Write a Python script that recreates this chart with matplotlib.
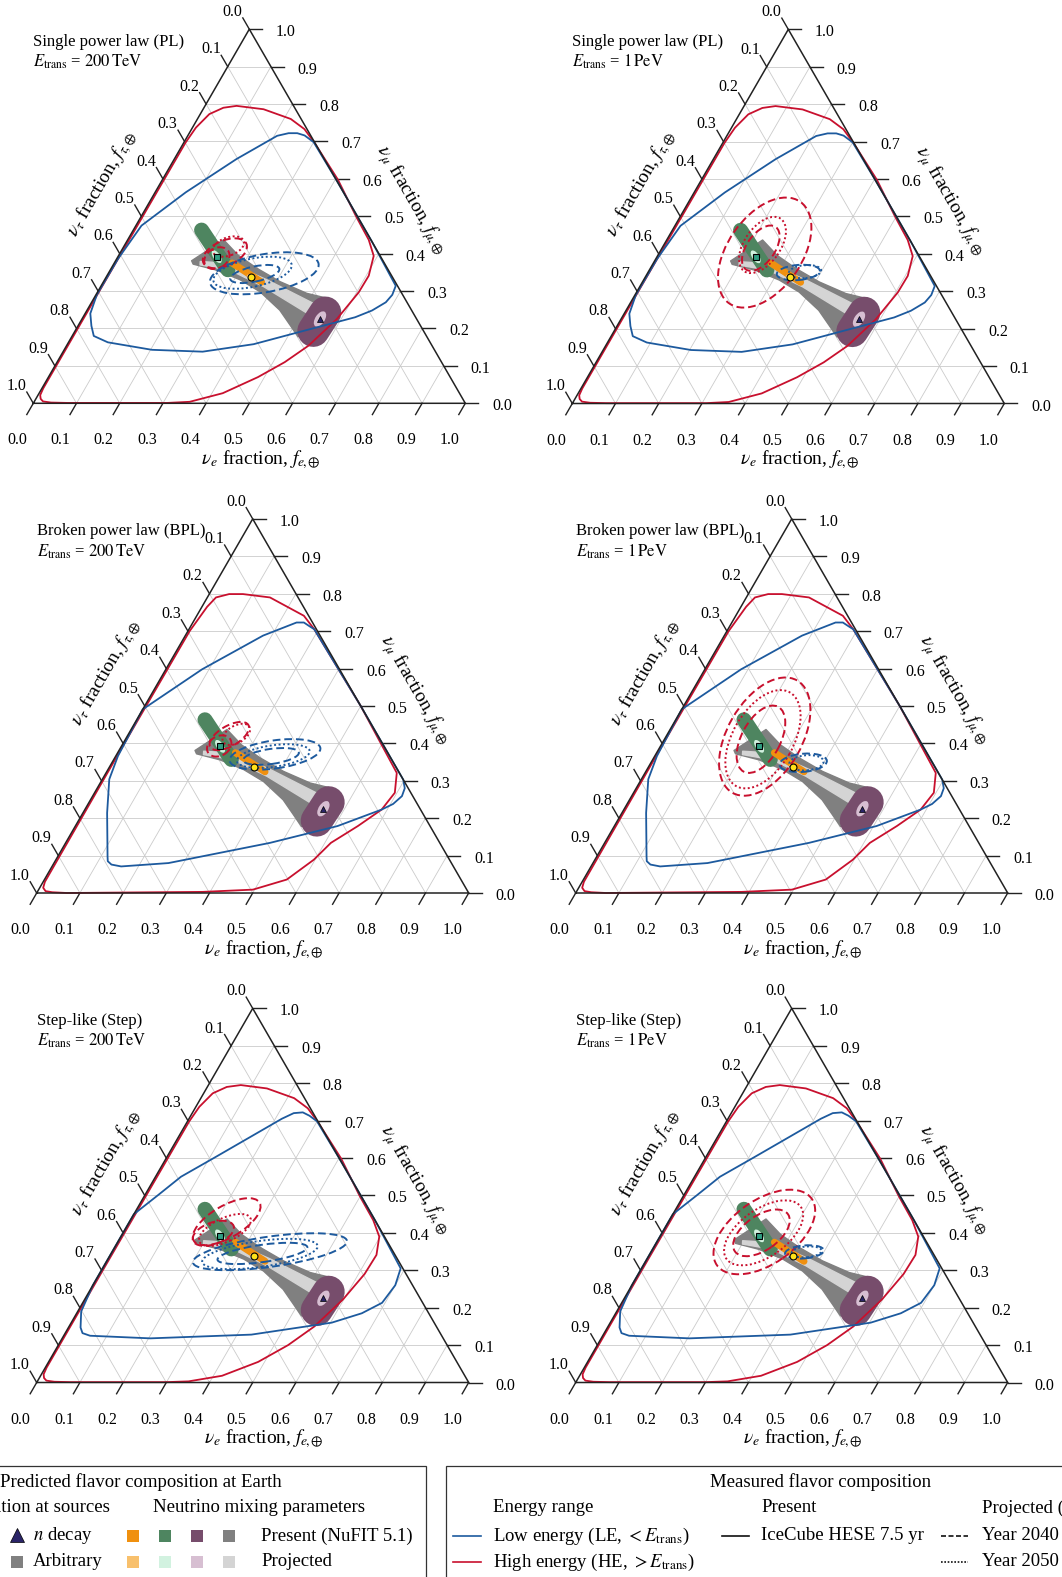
import numpy as np
import matplotlib.pyplot as plt
from matplotlib.transforms import Affine2D
from matplotlib.patches import Ellipse, Polygon, Rectangle
from matplotlib.lines import Line2D

plt.rcParams['font.family'] = 'serif'
plt.rcParams['font.serif'] = ['Liberation Serif', 'DejaVu Serif']
plt.rcParams['mathtext.fontset'] = 'stix'

W, H = 1062, 1577
SIDE = 432.0  # pixels per triangle side

RED = '#c8102e'
BLUE = '#1d5a9e'
GREY = '#808080'
LGREY = '#d4d4d4'
GREEN = '#4e8560'
LGREEN = '#d2f2e0'
PURPLE = '#774d6c'
LPURPLE = '#d7bfd2'
ORANGE = '#f0900f'
LORANGE = '#f8c06c'
NAVY = '#2a2468'

ticks = [0.0, 0.1, 0.2, 0.3, 0.4, 0.5, 0.6, 0.7, 0.8, 0.9, 1.0]

# IceCube HESE contours, (f_e, f_mu) pairs
HE_PL = [(0.004, 0.697), (0.008, 0.737), (0.021, 0.773), (0.045, 0.790), (0.073, 0.795),
         (0.140, 0.786), (0.216, 0.760), (0.261, 0.733), (0.302, 0.697), (0.406, 0.598),
         (0.498, 0.499), (0.558, 0.437), (0.591, 0.394), (0.606, 0.341), (0.605, 0.297),
         (0.590, 0.225), (0.560, 0.154), (0.527, 0.110), (0.485, 0.070), (0.425, 0.027),
         (0.360, 0.004), (0.310, 0.001), (0.078, 0.001), (0.040, 0.002), (0.020, 0.005),
         (0.011, 0.012), (0.005, 0.022), (0.003, 0.040), (0.003, 0.300)]
LE_PL = [(0.003, 0.386), (0.013, 0.475), (0.071, 0.564), (0.144, 0.653), (0.207, 0.715),
         (0.230, 0.722), (0.250, 0.722), (0.270, 0.716), (0.300, 0.698), (0.400, 0.600),
         (0.565, 0.435), (0.682, 0.314), (0.686, 0.290), (0.681, 0.270), (0.660, 0.248),
         (0.630, 0.230), (0.530, 0.194), (0.431, 0.158), (0.323, 0.138), (0.203, 0.143),
         (0.091, 0.163), (0.050, 0.180), (0.031, 0.207), (0.012, 0.240), (0.002, 0.290)]
HE_BPL = [(0.004, 0.700), (0.012, 0.765), (0.020, 0.790), (0.046, 0.799), (0.078, 0.799),
          (0.145, 0.790), (0.248, 0.741), (0.290, 0.705), (0.500, 0.500), (0.673, 0.321),
          (0.695, 0.268), (0.687, 0.223), (0.654, 0.179), (0.614, 0.134), (0.597, 0.089),
          (0.561, 0.036), (0.496, 0.009), (0.383, 0.003), (0.070, 0.000), (0.035, 0.002),
          (0.018, 0.005), (0.008, 0.014), (0.004, 0.030), (0.003, 0.400)]
LE_BPL = [(0.000, 0.491), (0.084, 0.598), (0.180, 0.688), (0.240, 0.723), (0.257, 0.723),
          (0.275, 0.713), (0.290, 0.705), (0.500, 0.500), (0.697, 0.303), (0.712, 0.280),
          (0.716, 0.259), (0.706, 0.238), (0.687, 0.223), (0.607, 0.179), (0.473, 0.134),
          (0.265, 0.080), (0.160, 0.071), (0.135, 0.076), (0.122, 0.085), (0.115, 0.098),
          (0.056, 0.214), (0.016, 0.304), (0.005, 0.366)]
HE_STEP = [(0.004, 0.697), (0.008, 0.737), (0.021, 0.773), (0.045, 0.790), (0.075, 0.795),
           (0.140, 0.786), (0.216, 0.760), (0.261, 0.733), (0.302, 0.697), (0.406, 0.598),
           (0.498, 0.499), (0.562, 0.434), (0.598, 0.390), (0.616, 0.341), (0.614, 0.290),
           (0.598, 0.222), (0.568, 0.150), (0.532, 0.100), (0.485, 0.055), (0.420, 0.018),
           (0.350, 0.003), (0.300, 0.001), (0.078, 0.001), (0.040, 0.002), (0.020, 0.005),
           (0.011, 0.012), (0.005, 0.022), (0.003, 0.040), (0.003, 0.300)]
LE_STEP = [(0.000, 0.450), (0.030, 0.500), (0.059, 0.550), (0.110, 0.600), (0.168, 0.658),
           (0.215, 0.705), (0.235, 0.720), (0.255, 0.722), (0.275, 0.713), (0.300, 0.698),
           (0.400, 0.600), (0.565, 0.435), (0.690, 0.305), (0.700, 0.260), (0.693, 0.213),
           (0.660, 0.185), (0.603, 0.160), (0.433, 0.128), (0.204, 0.118), (0.061, 0.125),
           (0.040, 0.132), (0.028, 0.147), (0.008, 0.190), (0.000, 0.260)]

# predicted regions at Earth
GREY_FAN = [(0.176, 0.381), (0.222, 0.437), (0.276, 0.396), (0.337, 0.361), (0.409, 0.325),
            (0.486, 0.294), (0.539, 0.281), (0.561, 0.205), (0.524, 0.178), (0.446, 0.249),
            (0.376, 0.298), (0.314, 0.330), (0.246, 0.356), (0.184, 0.372)]
LIGHT_FAN = [(0.197, 0.379), (0.268, 0.374), (0.376, 0.330), (0.515, 0.267), (0.538, 0.236),
             (0.513, 0.241), (0.377, 0.312), (0.277, 0.356), (0.201, 0.370)]
GREEN_AXIS = [(0.158, 0.463), (0.272, 0.357)]
ORANGE_AXIS = [(0.2725, 0.375), (0.3665, 0.324)]
PURPLE_AXIS = [(0.5546, 0.2427), (0.5514, 0.1935)]
SQUARE = (0.2285, 0.392)
CIRCLE = (0.3348, 0.3368)
TRIANGLE = (0.551, 0.2253)

# projected contours: (range, style, f_e, f_mu, width, height, angle)
PROJ_PL_200 = [("HE", "--", 0.243, 0.401, 0.109, 0.058, 24),
               ("HE", ":", 0.242, 0.419, 0.076, 0.042, 20),
               ("HE", "--", 0.231, 0.388, 0.062, 0.046, 30),
               ("LE", "--", 0.361, 0.3475, 0.255, 0.088, 10),
               ("LE", ":", 0.333, 0.349, 0.185, 0.065, 12),
               ("LE", "--", 0.340, 0.3456, 0.116, 0.035, 12)]
PROJ_PL_1P = [("HE", "--", 0.2437, 0.4034, 0.287, 0.171, 55),
              ("HE", ":", 0.2284, 0.4237, 0.148, 0.083, 55),
              ("HE", "--", 0.2288, 0.4151, 0.120, 0.065, 55),
              ("LE", "--", 0.348, 0.3502, 0.100, 0.035, 5),
              ("LE", ":", 0.3625, 0.3523, 0.075, 0.030, 5)]
PROJ_BPL_200 = [("HE", "--", 0.236, 0.4196, 0.102, 0.047, 30),
                ("HE", ":", 0.250, 0.424, 0.070, 0.040, 30),
                ("HE", "--", 0.226, 0.393, 0.060, 0.045, 30),
                ("LE", "--", 0.3664, 0.3705, 0.212, 0.065, 8),
                ("LE", ":", 0.3647, 0.366, 0.170, 0.050, 8),
                ("LE", "--", 0.360, 0.365, 0.130, 0.035, 8)]
PROJ_BPL_1P = [("HE", "--", 0.2286, 0.418, 0.300, 0.172, 60),
               ("HE", ":", 0.228, 0.411, 0.250, 0.140, 60),
               ("HE", "--", 0.2233, 0.411, 0.170, 0.090, 62),
               ("LE", "--", 0.3526, 0.348, 0.110, 0.042, 5),
               ("LE", ":", 0.360, 0.348, 0.080, 0.035, 5)]
PROJ_STEP_200 = [("HE", "--", 0.2249, 0.4298, 0.176, 0.074, 30),
                 ("HE", ":", 0.232, 0.4077, 0.130, 0.055, 25),
                 ("HE", "--", 0.2094, 0.3988, 0.100, 0.050, 20),
                 ("LE", "--", 0.3652, 0.3496, 0.360, 0.070, 8),
                 ("LE", ":", 0.345, 0.3435, 0.270, 0.060, 8),
                 ("LE", "--", 0.350, 0.345, 0.210, 0.040, 8)]
PROJ_STEP_1P = [("HE", "--", 0.2355, 0.4023, 0.268, 0.148, 35),
                ("HE", ":", 0.235, 0.400, 0.210, 0.110, 35),
                ("HE", "--", 0.230, 0.400, 0.150, 0.080, 35),
                ("LE", "--", 0.355, 0.349, 0.090, 0.030, 5),
                ("LE", ":", 0.360, 0.349, 0.070, 0.025, 5)]

titles = ["Single power law (PL)", "Single power law (PL)",
          "Broken power law (BPL)", "Broken power law (BPL)",
          "Step-like (Step)", "Step-like (Step)"]
etrans = ["200\\,\\mathrm{TeV}", "1\\,\\mathrm{PeV}"] * 3
he_sets = [HE_PL, HE_PL, HE_BPL, HE_BPL, HE_STEP, HE_STEP]
le_sets = [LE_PL, LE_PL, LE_BPL, LE_BPL, LE_STEP, LE_STEP]
proj_sets = [PROJ_PL_200, PROJ_PL_1P, PROJ_BPL_200, PROJ_BPL_1P, PROJ_STEP_200, PROJ_STEP_1P]
# bottom-left corner of each triangle, in pixels from top-left
corners = [(33.3, 403.3), (572.3, 403.5), (36.7, 893.0), (575.7, 893.0), (36.7, 1382.5), (575.7, 1382.5)]

to_xy = Affine2D(np.array([[1.0, 0.5, 0.0], [0.0, np.sqrt(3) / 2, 0.0], [0.0, 0.0, 1.0]]))
R3 = np.sqrt(3) / 2
TL = 13 / SIDE
PT = 72 / 100  # points per pixel
TFS = 11.5

fig = plt.figure(figsize=(W / 100, H / 100), dpi=100)


def draw_panel(x0, y0, title, et, he, le, proj):
    ax = fig.add_axes([0, 0, 1, 1])
    ax.set_xlim(-x0 / SIDE, (W - x0) / SIDE)
    ax.set_ylim(-(H - y0) / SIDE, y0 / SIDE)
    ax.axis('off')
    ax.patch.set_visible(False)
    tern = to_xy + ax.transData

    # grid
    for v in ticks[1:-1]:
        kw = dict(transform=tern, color='#cbcbcb', lw=0.6, zorder=1)
        ax.plot([v, v], [0, 1 - v], **kw)
        ax.plot([0, 1 - v], [v, v], **kw)
        ax.plot([1 - v, 0], [0, 1 - v], **kw)
    ax.plot([0, 1, 0, 0], [0, 0, 1, 0], transform=tern, color='#222222', lw=1.1, zorder=8)

    # ticks and tick labels
    for v in ticks:
        lab = f"{v:.1f}"
        ax.plot([v, v - 0.5 * TL], [0, -R3 * TL], color='#222222', lw=1.0)
        ax.text(v - 0.037, -0.086, lab, ha='center', va='center', fontsize=TFS)
        xr, yr = 1 - 0.5 * v, R3 * v
        ax.plot([xr, xr + TL], [yr, yr], color='#222222', lw=1.0)
        ax.text(xr + 0.085, yr - 0.007, lab, ha='center', va='center', fontsize=TFS)
        xl, yl = 0.5 * (1 - v), R3 * (1 - v)
        ax.plot([xl, xl - 0.5 * TL], [yl, yl + R3 * TL], color='#222222', lw=1.0)
        ax.text(xl - 0.039, yl + 0.040, lab, ha='center', va='center', fontsize=TFS)

    ax.text(0.526, -0.130, r"$\nu_e$ fraction, $f_{e\!,\!\oplus}$", ha='center', va='center', fontsize=14)
    ax.text(0.875, 0.470, r"$\nu_\mu$ fraction, $f_{\mu\!,\!\oplus}$", ha='center', va='center',
            fontsize=14, rotation=-60, rotation_mode='anchor')
    ax.text(0.159, 0.509, r"$\nu_\tau$ fraction, $f_{\tau\!,\!\oplus}$", ha='center', va='center',
            fontsize=14, rotation=60, rotation_mode='anchor')
    ax.text(0.0, 0.837, title, ha='left', va='center', fontsize=12)
    ax.text(0.0, 0.790, r"$E_{\mathrm{trans}}$ = $" + et + "$", ha='left', va='center', fontsize=12)

    # predicted flavor regions
    ax.add_patch(Polygon(GREY_FAN, closed=True, transform=tern, fc=GREY, ec=GREY, lw=1, joinstyle='round', zorder=2))
    ax.add_patch(Polygon(LIGHT_FAN, closed=True, transform=tern, fc=LGREY, ec=LGREY, lw=1, joinstyle='round', zorder=3))
    for axis_pts, col, wpx in [(GREEN_AXIS, GREEN, 15), (ORANGE_AXIS, ORANGE, 7), (PURPLE_AXIS, PURPLE, 32)]:
        fe, fm = zip(*axis_pts)
        ax.plot(fe, fm, transform=tern, color=col, lw=wpx * PT, solid_capstyle='round', zorder=4)
    for pt, col, w, h, ang in [(SQUARE, LGREEN, 0.034, 0.016, -56), (CIRCLE, LORANGE, 0.02, 0.01, -30),
                               (TRIANGLE, LPURPLE, 0.04, 0.022, 57)]:
        c = to_xy.transform(pt)
        ax.add_patch(Ellipse(c, w, h, angle=ang, fc=col, ec='none', zorder=5))

    # measured contours
    ax.add_patch(Polygon(he, closed=True, transform=tern, fill=False, ec=RED, lw=1.3, joinstyle='round', zorder=6))
    ax.add_patch(Polygon(le, closed=True, transform=tern, fill=False, ec=BLUE, lw=1.3, joinstyle='round', zorder=6))
    for rng, ls, fe, fm, w, h, ang in proj:
        c = to_xy.transform((fe, fm))
        dash = (0, (4, 2)) if ls == "--" else (0, (1, 1.3))
        ax.add_patch(Ellipse(c, w, h, angle=ang, fill=False, ec=RED if rng == "HE" else BLUE,
                             lw=1.4, linestyle=dash, zorder=6))

    ax.plot(*SQUARE, transform=tern, marker='s', ms=4.5, mfc='#2f9e83', mec='k', mew=0.8, zorder=9)
    ax.plot(*CIRCLE, transform=tern, marker='o', ms=5, mfc='#ffe21a', mec='k', mew=0.8, zorder=9)
    ax.plot(*TRIANGLE, transform=tern, marker='^', ms=5, mfc=NAVY, mec='k', mew=0.5, zorder=9)


for i in range(6):
    draw_panel(*corners[i], titles[i], etrans[i], he_sets[i], le_sets[i], proj_sets[i])


# legend boxes (figure pixel coordinates)
def fx(x):
    return x / W


def fy(y):
    return 1 - y / H


fig.add_artist(Rectangle((fx(-20), fy(1600)), fx(445.7), (1600 - 1466) / H, transform=fig.transFigure,
                         fill=False, ec='#333333', lw=0.9))
fig.add_artist(Rectangle((fx(445.5), fy(1600)), fx(660), (1600 - 1466) / H, transform=fig.transFigure,
                         fill=False, ec='#333333', lw=0.9))

LFS = 13.5
fig.text(fx(0), fy(1482), "Predicted flavor composition at Earth", ha='left', va='center', fontsize=LFS)
fig.text(fx(110), fy(1508), "Flavor composition at sources", ha='right', va='center', fontsize=LFS)
fig.text(fx(153), fy(1508), "Neutrino mixing parameters", ha='left', va='center', fontsize=LFS)
fig.add_artist(Line2D([fx(17)], [fy(1535)], marker='^', ms=10, mfc=NAVY, mec='k', mew=0.5,
                      transform=fig.transFigure))
fig.text(fx(33), fy(1536), r"$n$ decay", ha='left', va='center', fontsize=LFS)
fig.add_artist(Rectangle((fx(11), fy(1568)), 12 / W, 12 / H, transform=fig.transFigure, fc=GREY, ec='none'))
fig.text(fx(33), fy(1562), "Arbitrary", ha='left', va='center', fontsize=LFS)
present_cols = [ORANGE, GREEN, PURPLE, GREY]
projected_cols = [LORANGE, LGREEN, LPURPLE, LGREY]
sq_x = [133, 165, 197, 229]
for x, c1, c2 in zip(sq_x, present_cols, projected_cols):
    fig.add_artist(Rectangle((fx(x - 6), fy(1542)), 12 / W, 12 / H, transform=fig.transFigure, fc=c1, ec='none'))
    fig.add_artist(Rectangle((fx(x - 6), fy(1568)), 12 / W, 12 / H, transform=fig.transFigure, fc=c2, ec='none'))
fig.text(fx(261), fy(1536), "Present (NuFIT 5.1)", ha='left', va='center', fontsize=LFS)
fig.text(fx(261), fy(1562), "Projected", ha='left', va='center', fontsize=LFS)

fig.text(fx(821), fy(1482), "Measured flavor composition", ha='center', va='center', fontsize=LFS)
fig.text(fx(493), fy(1508), "Energy range", ha='left', va='center', fontsize=LFS)
fig.text(fx(761), fy(1508), "Present", ha='left', va='center', fontsize=LFS)
fig.text(fx(982), fy(1508), "Projected (IceCube-Gen2)", ha='left', va='center', fontsize=LFS)
leg_lines = [(453, 481, 1536, BLUE, '-'), (453, 481, 1562, RED, '-'), (722, 749, 1536, '#111111', '-'),
             (941, 968, 1536, '#111111', (0, (3, 1.5))), (941, 968, 1562, '#111111', (0, (1, 1)))]
for x1, x2, y, c, ls in leg_lines:
    fig.add_artist(Line2D([fx(x1), fx(x2)], [fy(y), fy(y)], color=c, lw=1.2, linestyle=ls,
                          transform=fig.transFigure))
fig.text(fx(493), fy(1536), r"Low energy (LE, $<E_{\mathrm{trans}}$)", ha='left', va='center', fontsize=LFS)
fig.text(fx(493), fy(1562), r"High energy (HE, $>E_{\mathrm{trans}}$)", ha='left', va='center', fontsize=LFS)
fig.text(fx(761), fy(1536), "IceCube HESE 7.5 yr", ha='left', va='center', fontsize=LFS)
fig.text(fx(982), fy(1536), "Year 2040", ha='left', va='center', fontsize=LFS)
fig.text(fx(982), fy(1562), "Year 2050", ha='left', va='center', fontsize=LFS)

fig.savefig("out.png", dpi=100)
